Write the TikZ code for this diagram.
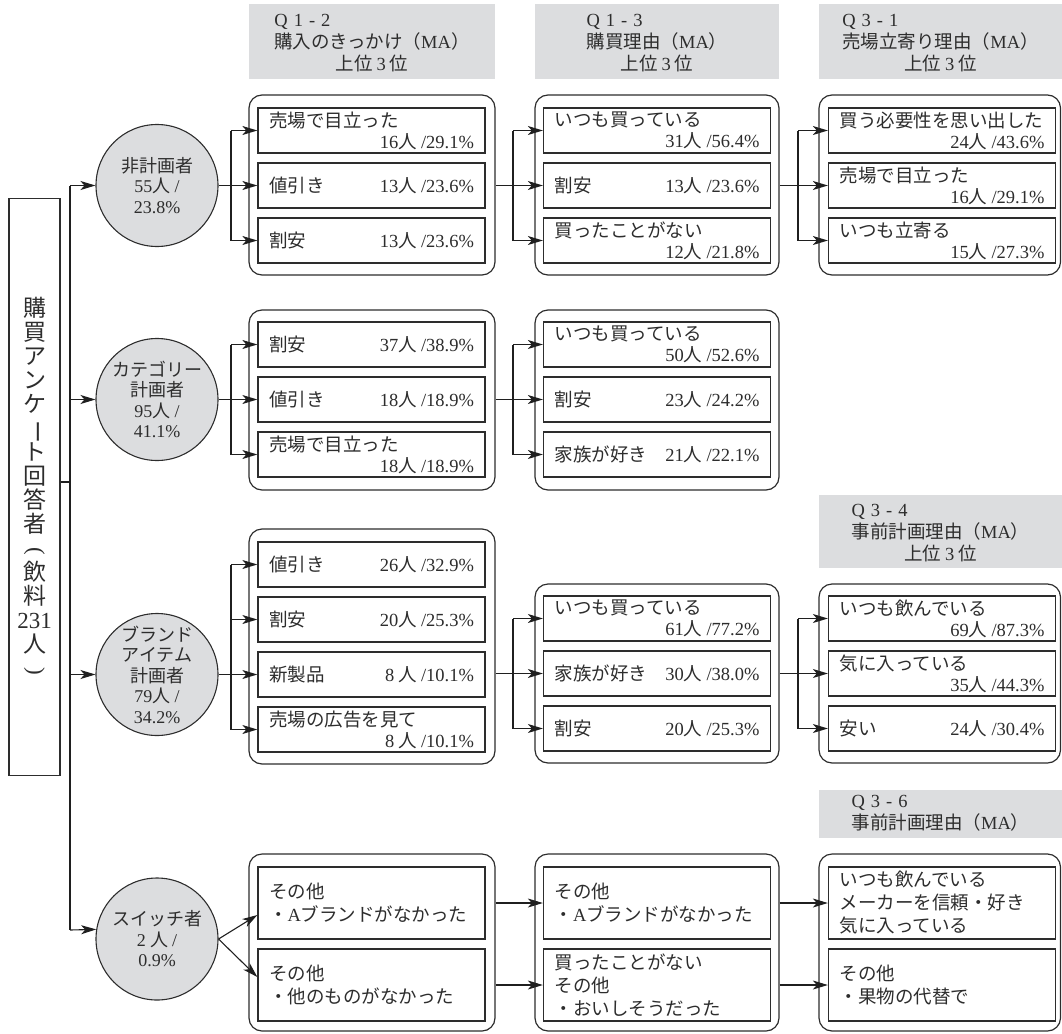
\documentclass[tikz,border=0pt]{standalone}
\usepackage{fontspec}
\usepackage{graphicx}
\setmainfont{Noto Sans CJK JP}
\newfontfamily\nf{Liberation Serif}
\usetikzlibrary{arrows.meta,calc}
\definecolor{hgray}{RGB}{220,221,223}
\definecolor{ink}{RGB}{45,45,45}
\newcommand\nb[1]{{\nf #1}}
\newcommand\nolsk{\lineskiplimit=-50pt\relax}
\newcommand\ifont{\fontsize{18.5}{21}\selectfont\nolsk}
\newcommand\hfont{\fontsize{18.5}{21.5}\selectfont\nolsk}
\newcommand\cfont{\fontsize{18}{20.5}\selectfont\nolsk}
\newcommand\lfont{\fontsize{23}{24}\selectfont\nolsk}
\newcommand\one[2]{\makebox[205pt]{#1\hfill#2}}
\newcommand\two[2]{\raisebox{-2pt}{\parbox{205pt}{\nolsk\baselineskip=21pt #1\par\hspace*{\fill}#2}}}
\newcommand\mlines[1]{\parbox{205pt}{\nolsk\baselineskip=23pt #1}}
\newcommand\qq[2]{\nb{Q\hspace{6pt}#1\hspace{6pt}-\hspace{6pt}#2}}
\newcommand\hd[2]{{\lineskiplimit=0pt\relax\begin{tabular}[b]{@{}l@{}}#1\\#2\end{tabular}}}
\newcommand\jou{上位\nb{\hspace{4pt}3\hspace{4pt}}位}
\tikzset{
  grp/.style={draw=ink, line width=1.2pt, rounded corners=13pt, inner sep=0pt},
  ibox/.style={draw=ink, line width=1.3pt, fill=white, inner sep=0pt, minimum width=227pt, minimum height=45pt, font=\ifont, text=ink},
  hdr/.style={fill=hgray, inner sep=0pt, align=center, font=\hfont, text=ink},
  circ/.style={circle, draw=ink, line width=1.1pt, fill=hgray, minimum size=122pt, inner sep=0pt, align=center, font=\cfont, text=ink},
  con/.style={draw=black!88, line width=1.1pt},
  arr/.style={con, -{Stealth[length=15pt,width=9pt,inset=4pt]}},
}
\begin{document}
\begin{tikzpicture}[x=1pt,y=-1pt]
\useasboundingbox (0,0) rectangle (1062,1033);

% headers
\node[hdr, minimum width=246pt, minimum height=75pt] (h1) at (372,41.5)
  {\hd{\qq{1}{2}}{購入のきっかけ（\nb{MA}）}\\\jou};
\node[hdr, minimum width=244pt, minimum height=75pt] (h2) at (657,41.5)
  {\hd{\qq{1}{3}}{購買理由（\nb{MA}）}\\\jou};
\node[hdr, minimum width=243pt, minimum height=75pt] (h3) at (940.5,41.5)
  {\hd{\qq{3}{1}}{売場立寄り理由（\nb{MA}）}\\\jou};
\node[hdr, minimum width=243pt, minimum height=73pt] (h4) at (940.5,531.5)
  {\hd{\qq{3}{4}}{事前計画理由（\nb{MA}）}\\\jou};
\node[hdr, minimum width=243pt, minimum height=48pt] (h5) at (940.5,814)
  {\hd{\qq{3}{6}}{事前計画理由（\nb{MA}）}};

% left box
\node[draw=ink, line width=1.3pt, minimum width=51pt, minimum height=577pt, inner sep=0pt, align=center, text=ink,
  font=\lfont] (lbox) at (34.5,487)
  {購\\買\\ア\\ン\\ケ\\\rotatebox[origin=c]{-90}{ー}\\ト\\回\\答\\者\\\rotatebox[origin=c]{-90}{\nf(}\\飲\\料\\\nb{231}\\人\\\rotatebox[origin=c]{-90}{\nf)}};

% circles
\node[circ] (c1) at (157,185.5) {非計画者\\\nb{55}人 \nb{/}\\\nb{23.8\%}};
\node[circ] (c2) at (157,399.5) {カテゴリー\\計画者\\\nb{95}人 \nb{/}\\\nb{41.1\%}};
\node[circ] (c3) at (157,674.5) {ブランド\\アイテム\\計画者\\\nb{79}人 \nb{/}\\\nb{34.2\%}};
\node[circ] (c4) at (157,939) {スイッチ者\\\nb{2} 人 \nb{/}\\\nb{0.9\%}};

% ---- row 1
\node[grp, minimum width=246pt, minimum height=180pt] (g11) at (372,185) {};
\node[grp, minimum width=244pt, minimum height=180pt] (g12) at (657,185) {};
\node[grp, minimum width=241.5pt, minimum height=180pt] (g13) at (939.75,185) {};
\node[ibox] (r1c1a) at (371.5,130.5) {\two{売場で目立った}{\nb{16}人 \nb{/29.1\%}}};
\node[ibox] (r1c1b) at (371.5,185.5) {\one{値引き}{\nb{13}人 \nb{/23.6\%}}};
\node[ibox] (r1c1c) at (371.5,240.5) {\one{割安}{\nb{13}人 \nb{/23.6\%}}};
\node[ibox] (r1c2a) at (657,130.5) {\two{いつも買っている}{\nb{31}人 \nb{/56.4\%}}};
\node[ibox] (r1c2b) at (657,185.5) {\one{割安}{\nb{13}人 \nb{/23.6\%}}};
\node[ibox] (r1c2c) at (657,240.5) {\two{買ったことがない}{\nb{12}人 \nb{/21.8\%}}};
\node[ibox] (r1c3a) at (942,130.5) {\two{買う必要性を思い出した}{\nb{24}人 \nb{/43.6\%}}};
\node[ibox] (r1c3b) at (942,185.5) {\two{売場で目立った}{\nb{16}人 \nb{/29.1\%}}};
\node[ibox] (r1c3c) at (942,240.5) {\two{いつも立寄る}{\nb{15}人 \nb{/27.3\%}}};

% ---- row 2
\node[grp, minimum width=246pt, minimum height=180pt] (g21) at (372,400) {};
\node[grp, minimum width=244pt, minimum height=180pt] (g22) at (657,400) {};
\node[ibox] (r2c1a) at (371.5,344.5) {\one{割安}{\nb{37}人 \nb{/38.9\%}}};
\node[ibox] (r2c1b) at (371.5,399.5) {\one{値引き}{\nb{18}人 \nb{/18.9\%}}};
\node[ibox] (r2c1c) at (371.5,454.5) {\two{売場で目立った}{\nb{18}人 \nb{/18.9\%}}};
\node[ibox] (r2c2a) at (657,344.5) {\two{いつも買っている}{\nb{50}人 \nb{/52.6\%}}};
\node[ibox] (r2c2b) at (657,399.5) {\one{割安}{\nb{23}人 \nb{/24.2\%}}};
\node[ibox] (r2c2c) at (657,454.5) {\one{家族が好き}{\nb{21}人 \nb{/22.1\%}}};

% ---- row 3
\node[grp, minimum width=246pt, minimum height=235pt] (g31) at (372,646.5) {};
\node[grp, minimum width=244pt, minimum height=179pt] (g32) at (657,673.5) {};
\node[grp, minimum width=241.5pt, minimum height=179pt] (g33) at (939.75,673.5) {};
\node[ibox] (r3c1a) at (371.5,564.5) {\one{値引き}{\nb{26}人 \nb{/32.9\%}}};
\node[ibox] (r3c1b) at (371.5,619.5) {\one{割安}{\nb{20}人 \nb{/25.3\%}}};
\node[ibox] (r3c1c) at (371.5,674.5) {\one{新製品}{\nb{8} 人 \nb{/10.1\%}}};
\node[ibox] (r3c1d) at (371.5,729.5) {\two{売場の広告を見て}{\nb{8} 人 \nb{/10.1\%}}};
\node[ibox] (r3c2a) at (657,618.5) {\two{いつも買っている}{\nb{61}人 \nb{/77.2\%}}};
\node[ibox] (r3c2b) at (657,673.5) {\one{家族が好き}{\nb{30}人 \nb{/38.0\%}}};
\node[ibox] (r3c2c) at (657,728.5) {\one{割安}{\nb{20}人 \nb{/25.3\%}}};
\node[ibox] (r3c3a) at (942,618.5) {\two{いつも飲んでいる}{\nb{69}人 \nb{/87.3\%}}};
\node[ibox] (r3c3b) at (942,673.5) {\two{気に入っている}{\nb{35}人 \nb{/44.3\%}}};
\node[ibox] (r3c3c) at (942,728.5) {\one{安い}{\nb{24}人 \nb{/30.4\%}}};

% ---- row 4
\node[grp, minimum width=246pt, minimum height=177pt] (g41) at (372,942.5) {};
\node[grp, minimum width=244pt, minimum height=177pt] (g42) at (657,942.5) {};
\node[grp, minimum width=241.5pt, minimum height=177pt] (g43) at (939.75,942.5) {};
\node[ibox, minimum height=72pt] (r4c1a) at (371.5,903) {\mlines{その他\\・\nb{A}ブランドがなかった}};
\node[ibox, minimum height=72pt] (r4c1b) at (371.5,985) {\mlines{その他\\・他のものがなかった}};
\node[ibox, minimum height=72pt] (r4c2a) at (657,903) {\mlines{その他\\・\nb{A}ブランドがなかった}};
\node[ibox, minimum height=72pt] (r4c2b) at (657,985) {\mlines{買ったことがない\\その他\\・おいしそうだった}};
\node[ibox, minimum height=72pt] (r4c3a) at (942,903) {\mlines{いつも飲んでいる\\メーカーを信頼・好き\\気に入っている}};
\node[ibox, minimum height=72pt] (r4c3b) at (942,985) {\mlines{その他\\・果物の代替で}};

% ---- trunk
\coordinate (tTop) at (70,185.5);
\coordinate (tJ) at (70,482);
\coordinate (tBot) at (70,930);
\draw[con] (lbox.east |- tJ) -- (tJ);
\draw[con] (tTop) -- (tBot);
\draw[arr] (tTop) -- (c1.west);
\draw[arr] (tTop |- c2.west) -- (c2.west);
\draw[arr] (tTop |- c3.west) -- (c3.west);
\draw[arr] (tBot) -- (c4.171.5);

% fork x positions
\coordinate (fA) at (231,0);
\coordinate (fB) at (513,0);
\coordinate (fC) at (798,0);

% row 1 forks
\draw[con] (c1.east) -- (fA |- c1.east);
\draw[con] (fA |- r1c1a.west) -- (fA |- r1c1c.west);
\foreach \b in {r1c1a,r1c1b,r1c1c} \draw[arr] (fA |- \b.west) -- (\b.west);
\draw[con] (g11.east |- r1c2b.west) -- (fB |- r1c2b.west);
\draw[con] (fB |- r1c2a.west) -- (fB |- r1c2c.west);
\foreach \b in {r1c2a,r1c2b,r1c2c} \draw[arr] (fB |- \b.west) -- (\b.west);
\draw[con] (g12.east |- r1c3b.west) -- (fC |- r1c3b.west);
\draw[con] (fC |- r1c3a.west) -- (fC |- r1c3c.west);
\foreach \b in {r1c3a,r1c3b,r1c3c} \draw[arr] (fC |- \b.west) -- (\b.west);

% row 2 forks
\draw[con] (c2.east) -- (fA |- c2.east);
\draw[con] (fA |- r2c1a.west) -- (fA |- r2c1c.west);
\foreach \b in {r2c1a,r2c1b,r2c1c} \draw[arr] (fA |- \b.west) -- (\b.west);
\draw[con] (g21.east |- r2c2b.west) -- (fB |- r2c2b.west);
\draw[con] (fB |- r2c2a.west) -- (fB |- r2c2c.west);
\foreach \b in {r2c2a,r2c2b,r2c2c} \draw[arr] (fB |- \b.west) -- (\b.west);

% row 3 forks
\draw[con] (c3.east) -- (fA |- c3.east);
\draw[con] (fA |- r3c1a.west) -- (fA |- r3c1d.west);
\foreach \b in {r3c1a,r3c1b,r3c1c,r3c1d} \draw[arr] (fA |- \b.west) -- (\b.west);
\draw[con] (g31.east |- r3c2b.west) -- (fB |- r3c2b.west);
\draw[con] (fB |- r3c2a.west) -- (fB |- r3c2c.west);
\foreach \b in {r3c2a,r3c2b,r3c2c} \draw[arr] (fB |- \b.west) -- (\b.west);
\draw[con] (g32.east |- r3c3b.west) -- (fC |- r3c3b.west);
\draw[con] (fC |- r3c3a.west) -- (fC |- r3c3c.west);
\foreach \b in {r3c3a,r3c3b,r3c3c} \draw[arr] (fC |- \b.west) -- (\b.west);

% row 4
\draw[arr] (c4.east) -- ($(r4c1a.west)+(0,12)$);
\draw[arr] (c4.east) -- ($(r4c1b.west)+(0,-8)$);
\draw[arr] (g41.east |- r4c2a.west) -- (r4c2a.west);
\draw[arr] (g41.east |- r4c2b.west) -- (r4c2b.west);
\draw[arr] (g42.east |- r4c3a.west) -- (r4c3a.west);
\draw[arr] (g42.east |- r4c3b.west) -- (r4c3b.west);
\end{tikzpicture}
\end{document}
